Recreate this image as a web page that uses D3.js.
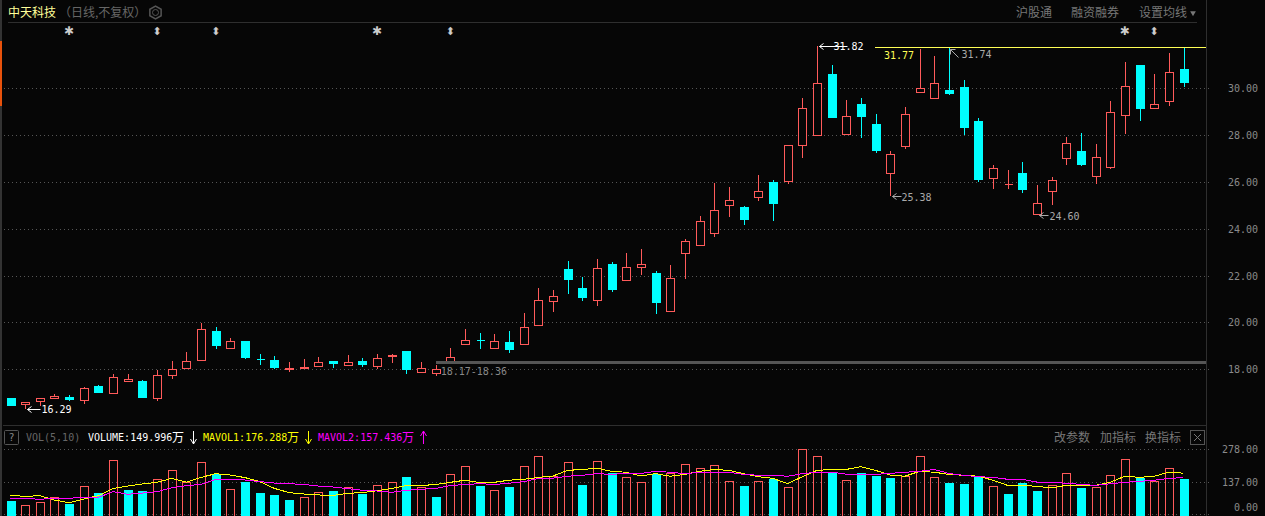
<!DOCTYPE html>
<html>
<head>
<meta charset="utf-8">
<script src="https://d3js.org/d3.v7.min.js"></script>
<style>
  html, body { margin: 0; padding: 0; background: #060606; overflow: hidden; }
  svg { display: block; }
  .mono { font-family: "DejaVu Sans Mono", monospace; font-size: 10px; }
  .cjk { font-family: "Noto Sans CJK SC", sans-serif; font-size: 12px; }
</style>
</head>
<body>
<div id="wrapper"></div>
<script>
// 1. Data
const opens = [16.77,16.49,16.62,16.79,16.82,16.66,17.29,16.96,17.47,17.50,16.75,17.73,18.03,18.37,19.62,18.88,19.19,18.43,18.38,18.00,18.03,18.11,18.35,18.16,18.35,18.13,18.54,18.78,17.87,17.87,18.33,19.09,19.24,18.88,19.15,19.05,19.86,20.89,22.28,21.47,20.93,22.50,21.78,22.34,22.11,20.46,22.95,23.28,23.79,24.99,24.93,25.33,26.00,26.01,27.55,27.98,30.61,28.02,29.33,28.48,26.36,27.51,29.83,29.56,29.91,30.04,28.60,26.16,25.89,26.38,24.60,25.59,27.00,27.32,26.23,26.61,28.83,30.99,29.13,29.43,30.82]
const closes = [16.49,16.59,16.76,16.86,16.75,17.19,17.03,17.66,17.57,16.82,17.74,18.00,18.34,19.71,19.01,19.19,18.50,18.43,18.10,18.04,18.08,18.30,18.28,18.30,18.24,18.47,18.60,17.99,18.04,18.03,18.51,19.24,19.24,19.19,18.87,19.79,20.94,21.11,21.86,21.09,22.31,21.43,22.35,22.48,20.87,21.88,23.46,24.32,24.79,25.21,24.42,25.60,25.10,27.56,29.14,30.21,28.77,28.80,28.82,27.37,27.18,28.89,30.00,30.21,29.77,28.32,26.13,26.58,25.90,25.71,25.09,26.07,27.65,26.77,27.05,28.97,30.08,29.16,29.32,30.68,30.27]
const highs = [16.77,16.59,16.76,16.95,16.90,17.23,17.33,17.80,17.80,17.54,17.97,18.35,18.74,19.96,19.79,19.34,19.19,18.64,18.57,18.31,18.43,18.53,18.35,18.61,18.47,18.65,18.64,18.78,18.30,18.17,18.91,19.72,19.55,19.51,19.63,20.40,21.47,21.39,22.62,21.94,22.71,22.58,22.97,23.14,22.20,22.45,23.56,24.55,25.95,25.78,24.97,26.30,26.08,27.56,29.57,31.82,30.99,29.50,29.59,28.90,27.32,29.20,31.68,31.38,31.74,30.35,28.73,26.72,26.51,26.85,25.87,26.21,27.92,28.09,27.62,29.46,31.12,30.99,30.61,31.51,31.75]
const lows = [16.49,16.29,16.43,16.73,16.66,16.52,16.99,16.96,17.47,16.77,16.65,17.59,18.01,18.37,18.88,18.88,18.44,18.20,18.03,17.90,18.01,18.11,18.06,18.16,18.11,18.03,18.28,17.81,17.87,17.73,18.33,19.09,18.87,18.88,18.70,19.05,19.86,20.45,21.21,20.92,20.70,21.30,21.78,22.03,20.36,20.46,21.87,23.28,23.65,24.50,24.16,25.19,24.33,25.93,27.04,27.98,28.73,28.02,27.88,27.24,25.38,27.41,29.83,29.53,29.73,28.01,26.00,25.70,25.70,25.53,24.60,25.02,26.73,26.68,25.91,26.55,28.05,28.60,29.13,29.25,30.06]
// cyan even when open equals close
const flatDown = [17, 32]

const volumes = [57,39,51,73,44,120,91,231,104,100,150,188,138,222,173,107,138,91,83,61,73,94,100,116,87,124,137,160,116,74,171,205,121,103,117,205,248,165,222,126,227,175,158,137,174,178,214,197,210,141,121,141,153,116,278,248,177,146,177,164,155,165,248,158,134,130,161,120,87,134,100,124,175,113,116,167,235,154,141,197,150]
// 1 = red bar, 0 = cyan bar
const volumeUp = [0,1,1,1,0,1,0,1,0,0,1,1,1,1,0,1,0,0,0,0,1,1,0,1,0,1,1,0,1,0,1,1,0,1,0,1,1,1,1,0,1,0,1,1,0,1,1,1,1,1,0,1,0,1,1,1,0,1,0,0,0,1,1,1,0,0,0,1,0,0,0,1,1,0,1,1,1,0,1,1,0]
const mavol1 = [81,77,80,61,50,66,80,111,121,130,137,154,138,158,174,168,157,140,111,93,87,83,81,90,93,101,111,123,123,128,137,146,136,137,146,150,158,164,188,192,197,184,180,164,174,163,171,184,192,188,174,161,154,131,161,188,192,192,204,188,168,163,184,180,171,167,163,146,124,124,120,113,124,124,124,137,163,158,163,180,176]
const mavol2 = [70,69,64,70,69,73,73,97,86,91,97,114,123,128,150,150,147,140,134,131,128,121,117,110,103,100,94,103,107,111,123,128,131,128,133,140,153,155,163,167,174,171,175,175,184,180,174,180,180,180,171,167,167,163,174,180,180,172,171,171,175,180,184,192,175,167,161,158,150,150,138,137,133,128,124,131,137,141,146,154,157]

const priceTicks = [30,28,26,24,22,20,18]
const volumeTicks = [278,137,0]
const starMarks = [4,25,76]
const arrowMarks = [10,14,30,78]

// 2. Chart dimensions
const dms = { width: 1265, height: 516, plotRight: 1206, labelRight: 1258 }

// 3. Draw canvas
const svg = d3.select('#wrapper').append('svg')
    .attr('width', dms.width)
    .attr('height', dms.height)

svg.append('rect').attr('width', dms.width).attr('height', dms.height).attr('fill', '#060606')

// 4. Scales
const xScale = d3.scaleLinear().domain([0, 80]).range([10.5, 1183.5])
const yScale = d3.scaleLinear().domain([18, 30]).range([369.3, 88.3])
const vScale = d3.scaleLinear().domain([0, 278]).range([514.4, 449.3])

const px = v => Math.round(v) + 0.5
const RED = '#ff5a5a', CYAN = '#00ffff', BODY = 9

// frame
const frame = svg.append('g').attr('stroke', '#2e2e2e').attr('shape-rendering', 'crispEdges')
frame.append('line').attr('x1', 1).attr('x2', 1).attr('y1', 0).attr('y2', 516).attr('stroke', '#333').attr('stroke-width', 2)
frame.append('line').attr('x1', 1).attr('x2', 1).attr('y1', 41).attr('y2', 106).attr('stroke', '#e8520c').attr('stroke-width', 2)
frame.append('line').attr('x1', 8).attr('x2', 1197).attr('y1', 22.5).attr('y2', 22.5)
frame.append('line').attr('x1', 3).attr('x2', dms.plotRight).attr('y1', 425.5).attr('y2', 425.5)
frame.append('line').attr('x1', dms.plotRight + .5).attr('x2', dms.plotRight + .5).attr('y1', 0).attr('y2', 516)

// gridlines
const gridLine = (sel, scale, ticks) => sel.selectAll(null).data(ticks).join('line')
    .attr('x1', 4).attr('x2', dms.plotRight + 3)
    .attr('y1', d => px(scale(d))).attr('y2', d => px(scale(d)))
    .attr('stroke', '#555').attr('stroke-dasharray', '1 3')
    .attr('shape-rendering', 'crispEdges')
gridLine(svg.append('g'), yScale, priceTicks)
gridLine(svg.append('g'), vScale, volumeTicks)

// axis labels
const axisLabel = (scale, ticks, shift) => svg.append('g').selectAll('text').data(ticks).join('text')
    .attr('class', 'mono')
    .attr('x', dms.labelRight)
    .attr('y', d => scale(d) + 4 + shift(d))
    .attr('text-anchor', 'end')
    .attr('fill', '#8a8a8a')
    .text(d => d3.format('.2f')(d))
axisLabel(yScale, priceTicks, () => 0)
axisLabel(vScale, volumeTicks, d => d === 0 ? -7 : 0)

// 5. Candles
const candles = svg.append('g').attr('shape-rendering', 'crispEdges')
const isDown = i => closes[i] < opens[i] || flatDown.includes(i)
const color = i => isDown(i) ? CYAN : RED

candles.selectAll('line').data(d3.range(opens.length)).join('line')
    .attr('x1', i => px(xScale(i))).attr('x2', i => px(xScale(i)))
    .attr('y1', i => yScale(highs[i])).attr('y2', i => yScale(lows[i]))
    .attr('stroke', color)

// paths, because a rect of height 0 would not draw the doji bar
candles.selectAll('path').data(d3.range(opens.length)).join('path')
    .attr('d', i => {
        const x = px(xScale(i)) - (BODY - 1) / 2
        const y = px(yScale(Math.max(opens[i], closes[i])))
        const h = Math.round(Math.abs(yScale(opens[i]) - yScale(closes[i])))
        return `M${x},${y}h${BODY - 1}v${h}h${-(BODY - 1)}Z`
    })
    .attr('fill', i => isDown(i) ? CYAN : '#060606')
    .attr('stroke', color)

// 6. Reference lines and price notes
svg.append('line').attr('x1', xScale(29)).attr('x2', dms.plotRight)
    .attr('y1', px(yScale(18.31))).attr('y2', px(yScale(18.31)))
    .attr('stroke', '#555').attr('stroke-width', 3).attr('shape-rendering', 'crispEdges')
svg.append('line').attr('x1', 875).attr('x2', dms.plotRight)
    .attr('y1', px(yScale(31.77))).attr('y2', px(yScale(31.77)))
    .attr('stroke', '#ffff55').attr('shape-rendering', 'crispEdges')

const note = (x, y, label, fill) => svg.append('text').attr('class', 'mono')
    .attr('x', x).attr('y', y).attr('fill', fill).text(label)

// arrow drawn from the candle point, len pixels to the right
const arrow = (x, y, len, fill) => svg.append('path')
    .attr('d', `M${x},${y}h${len}M${x + 4},${y - 3}L${x},${y}L${x + 4},${y + 3}`)
    .attr('fill', 'none').attr('stroke', fill)

const priceNote = (i, price, label, len, gap, dy, fill) => {
    const x = px(xScale(i)) + 2
    const y = px(yScale(price))
    arrow(x, y, len, fill)
    note(x + gap, y + dy, label, fill)
}
priceNote(1, 16.29, '16.29', 13, 14, 3, '#fff')
priceNote(55, 31.82, '31.82', 28, 14, 3, '#fff')
priceNote(60, 25.38, '25.38', 9, 9, 4, '#aaa')
priceNote(70, 24.60, '24.60', 9, 10, 4, '#aaa')

const tip = [px(xScale(64)) + 1, px(yScale(31.74)) + 1]
svg.append('path')
    .attr('d', `M${tip[0]},${tip[1]}l8,8M${tip[0]},${tip[1] + 5}V${tip[1]}H${tip[0] + 5}`)
    .attr('fill', 'none').attr('stroke', '#aaa')
note(tip[0] + 11, tip[1] + 8, '31.74', '#aaa')
note(884, yScale(31.77) + 12, '31.77', '#ffff55')
note(xScale(29) + 5, yScale(18.17) + 10, '18.17-18.36', '#888')

svg.append('g').selectAll('text').data(starMarks).join('text')
    .attr('x', i => xScale(i)).attr('y', 35).attr('text-anchor', 'middle')
    .attr('fill', '#ccc').style('font-family', 'DejaVu Sans').style('font-size', '12px').text('✱')
svg.append('g').selectAll('text').data(arrowMarks).join('text')
    .attr('x', i => xScale(i)).attr('y', 35).attr('text-anchor', 'middle')
    .attr('fill', '#ccc').style('font-family', 'DejaVu Sans').style('font-size', '11px').text('⬍')

// 7. Volume panel
svg.append('g').attr('shape-rendering', 'crispEdges')
    .selectAll('rect').data(d3.range(volumes.length)).join('rect')
    .attr('x', i => px(xScale(i)) - (BODY - 1) / 2)
    .attr('y', i => px(vScale(volumes[i])))
    .attr('width', BODY - 1)
    .attr('height', i => 516 - px(vScale(volumes[i])))
    .attr('fill', i => volumeUp[i] ? 'none' : CYAN)
    .attr('stroke', i => volumeUp[i] ? RED : CYAN)

const volLine = d3.line().x((d, i) => xScale(i)).y(d => vScale(d))
svg.append('path').attr('d', volLine(mavol1)).attr('fill', 'none').attr('stroke', '#ffff00').attr('shape-rendering', 'crispEdges')
svg.append('path').attr('d', volLine(mavol2)).attr('fill', 'none').attr('stroke', '#ff00ff').attr('shape-rendering', 'crispEdges')

// 8. Header texts
const cjk = (x, y, label, fill) => svg.append('text').attr('class', 'cjk')
    .attr('x', x).attr('y', y).attr('fill', fill).text(label)

cjk(8, 17, '中天科技', '#ffff99')
cjk(59, 17, '（日线,不复权）', '#666')
cjk(1016, 17, '沪股通', '#777')
cjk(1071, 17, '融资融券', '#777')
cjk(1139, 17, '设置均线', '#777')
svg.append('path').attr('d', d3.symbol(d3.symbolTriangle, 14)()).attr('transform', 'translate(1193,13) rotate(180)').attr('fill', '#777')

// gear icon
const hexagon = d3.line().curve(d3.curveLinearClosed)(d3.range(6).map(k => [
    155.5 + 6.5 * Math.cos(Math.PI / 6 + k * Math.PI / 3),
    12.5 + 6.5 * Math.sin(Math.PI / 6 + k * Math.PI / 3)
]))
svg.append('path').attr('d', hexagon).attr('fill', 'none').attr('stroke', '#555').attr('stroke-width', 1.5)
svg.append('circle').attr('cx', 155.5).attr('cy', 12.5).attr('r', 3).attr('fill', 'none').attr('stroke', '#555')

svg.append('rect').attr('x', 4.5).attr('y', 430.5).attr('width', 14).attr('height', 14).attr('rx', 1)
    .attr('fill', 'none').attr('stroke', '#555')
note(8.5, 441, '?', '#888')
note(26, 441, 'VOL(5,10)', '#666')
note(88, 441, 'VOLUME:149.996', '#fff')
cjk(172, 442, '万', '#fff')
note(203, 441, 'MAVOL1:176.288', '#ffff00')
cjk(287, 442, '万', '#ffff00')
note(318, 441, 'MAVOL2:157.436', '#ff00ff')
cjk(402, 442, '万', '#ff00ff')

// trend arrows behind the legend
const legendArrow = (x, up, fill) => svg.append('path')
    .attr('d', up
        ? `M${x},444V431M${x - 3},436L${x},431L${x + 3},436`
        : `M${x},431V444M${x - 3},439L${x},444L${x + 3},439`)
    .attr('fill', 'none').attr('stroke', fill)
legendArrow(193.5, false, '#fff')
legendArrow(308.5, false, '#ffff00')
legendArrow(423.5, true, '#ff00ff')

cjk(1054, 442, '改参数', '#777')
cjk(1100, 442, '加指标', '#777')
cjk(1145, 442, '换指标', '#777')
svg.append('rect').attr('x', 1190.5).attr('y', 430.5).attr('width', 14).attr('height', 14)
    .attr('fill', 'none').attr('stroke', '#555')
svg.append('path').attr('d', 'M1194,434L1201,441M1201,434L1194,441').attr('fill', 'none').attr('stroke', '#777')
</script>
</body>
</html>
